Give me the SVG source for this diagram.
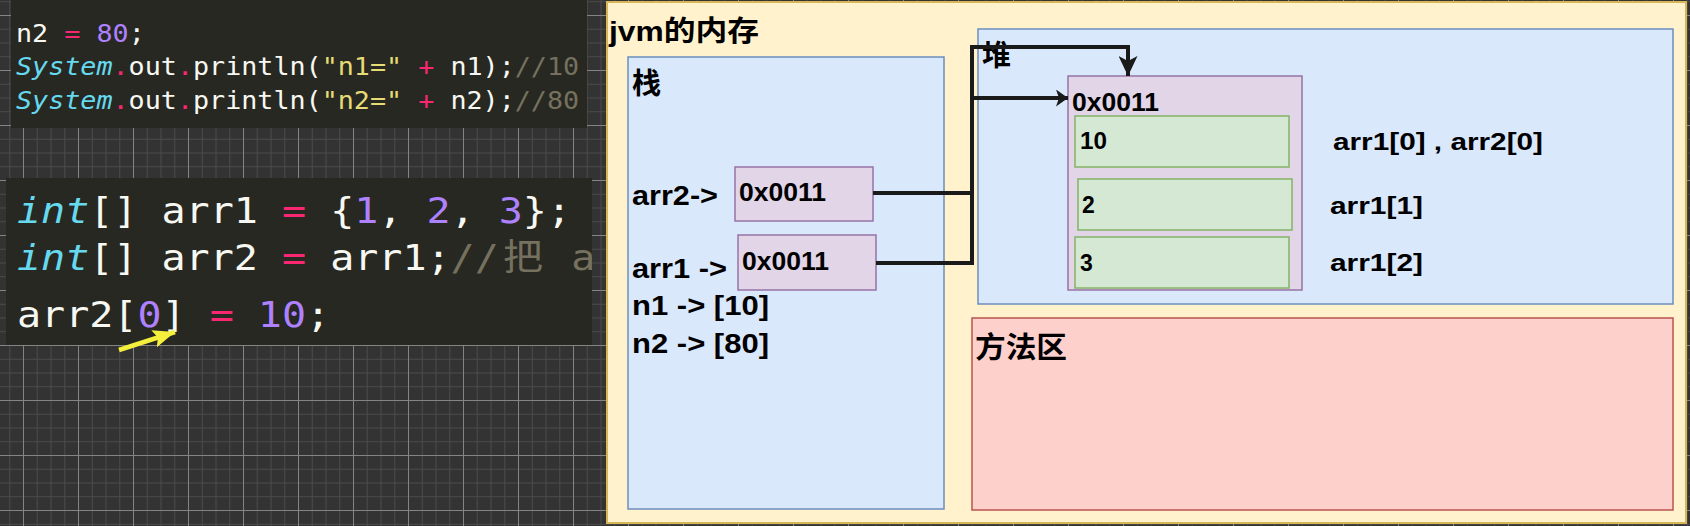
<svg xmlns="http://www.w3.org/2000/svg" width="1690" height="526" viewBox="0 0 1690 526">
<defs>
<style>
.lbl{font-family:"Liberation Sans","Noto Sans CJK SC",Arial,sans-serif;font-weight:bold;fill:#000}
.code{font-family:"DejaVu Sans Mono","Noto Sans CJK SC",monospace;white-space:pre;fill:#f8f8f2}
.kw{fill:#66d9ef;font-style:italic}
.op{fill:#f92672}
.num{fill:#ae81ff}
.str{fill:#e6db74}
.cm{fill:#75715e}
.panel{fill:#272822}
.conn{fill:none;stroke:#1a1a1a;stroke-width:4}
.ptr{fill:#e1d5e7;stroke:#9673a6;stroke-width:1.5}
.cell{fill:#d5e8d4;stroke:#82b366;stroke-width:1.5}
</style>
<pattern id="gMinor" width="13.75" height="13.75" patternUnits="userSpaceOnUse" x="23" y="15">
<path d="M0.5 0V13.75M0 0.5H13.75" stroke="#4b4b4b" stroke-width="1" fill="none"/>
</pattern>
<pattern id="gMajor" width="55" height="55" patternUnits="userSpaceOnUse" x="23" y="15">
<path d="M0.5 0V55M0 0.5H55" stroke="#848484" stroke-width="1" fill="none"/>
</pattern>
<marker id="arrDown" viewBox="0 0 20 19" refX="20" refY="9.5" markerWidth="20" markerHeight="19" markerUnits="userSpaceOnUse" orient="auto">
<path d="M0,0 L20,9.5 L0,19 L5,9.5 z" fill="#1a1a1a"/>
</marker>
<marker id="arrRight" viewBox="0 0 12 17" refX="12" refY="8.5" markerWidth="12" markerHeight="17" markerUnits="userSpaceOnUse" orient="auto">
<path d="M0,0 L12,8.5 L0,17 L3,8.5 z" fill="#1a1a1a"/>
</marker>
<marker id="arrYellow" viewBox="0 0 22 18" refX="22" refY="9" markerWidth="22" markerHeight="18" markerUnits="userSpaceOnUse" orient="auto">
<path d="M0,0 L22,9 L0,18 L4,9 z" fill="#f5f03c"/>
</marker>
<clipPath id="clipBottom"><rect x="6" y="178" width="586" height="167"/></clipPath>
</defs>

<rect x="0" y="0" width="1690" height="526" fill="#333333"/>
<rect x="0" y="0" width="1690" height="526" fill="url(#gMinor)"/>
<rect x="0" y="0" width="1690" height="526" fill="url(#gMajor)"/>

<g id="code-top">
<rect class="panel" x="11" y="0" width="576" height="128"/>
<g transform="translate(16 0) scale(1.114 1)">
<text class="code" font-size="24" x="0" y="42">n2 <tspan class="op">=</tspan> <tspan class="num">80</tspan>;</text>
<text class="code" font-size="24" x="0" y="75"><tspan class="kw">System</tspan><tspan class="op">.</tspan>out<tspan class="op">.</tspan>println(<tspan class="str">"n1="</tspan> <tspan class="op">+</tspan> n1);<tspan class="cm">//10</tspan></text>
<text class="code" font-size="24" x="0" y="109"><tspan class="kw">System</tspan><tspan class="op">.</tspan>out<tspan class="op">.</tspan>println(<tspan class="str">"n2="</tspan> <tspan class="op">+</tspan> n2);<tspan class="cm">//80</tspan></text>
</g>
</g>

<g id="code-bottom">
<rect class="panel" x="6" y="178" width="586" height="167"/>
<g clip-path="url(#clipBottom)">
<g transform="translate(17 0) scale(1.112 1)">
<text class="code" font-size="36" x="0" y="223"><tspan class="kw">int</tspan>[] arr1 <tspan class="op">=</tspan> {<tspan class="num">1</tspan>, <tspan class="num">2</tspan>, <tspan class="num">3</tspan>};</text>
<text class="code" font-size="36" x="0" y="270"><tspan class="kw">int</tspan>[] arr2 <tspan class="op">=</tspan> arr1;<tspan class="cm">//</tspan><tspan class="cm" x="437">把</tspan><tspan class="cm" x="476.7"> ar</tspan></text>
<text class="code" font-size="36" x="0" y="327">arr2[<tspan class="num">0</tspan>] <tspan class="op">=</tspan> <tspan class="num">10</tspan>;</text>
</g>
</g>
<line x1="119" y1="350" x2="175" y2="332" stroke="#f5f03c" stroke-width="4.5" marker-end="url(#arrYellow)"/>
</g>

<g id="jvm-memory">
<rect x="607" y="2" width="1079" height="521" fill="#fff2cc" stroke="#d6b656" stroke-width="2"/>
<text class="lbl" x="609" y="41" font-size="28" textLength="150" lengthAdjust="spacingAndGlyphs">jvm的内存</text>
</g>

<g id="stack">
<rect x="628" y="57" width="316" height="452" fill="#dae8fc" stroke="#6c8ebf" stroke-width="1.5"/>
<text class="lbl" x="632" y="94" font-size="29">栈</text>
<text class="lbl" x="632" y="205" font-size="28" textLength="86" lengthAdjust="spacingAndGlyphs">arr2-&gt;</text>
<text class="lbl" x="632" y="278" font-size="28" textLength="95" lengthAdjust="spacingAndGlyphs">arr1 -&gt;</text>
<text class="lbl" x="632" y="315" font-size="28" textLength="137" lengthAdjust="spacingAndGlyphs">n1 -&gt; [10]</text>
<text class="lbl" x="632" y="353" font-size="28" textLength="137" lengthAdjust="spacingAndGlyphs">n2 -&gt; [80]</text>
</g>

<g id="arr2-ref">
<rect class="ptr" x="735" y="167" width="138" height="54"/>
<text class="lbl" x="739" y="201" font-size="26" textLength="87" lengthAdjust="spacingAndGlyphs">0x0011</text>
</g>

<g id="arr1-ref">
<rect class="ptr" x="738" y="235" width="138" height="55"/>
<text class="lbl" x="742" y="270" font-size="26" textLength="87" lengthAdjust="spacingAndGlyphs">0x0011</text>
</g>

<g id="heap">
<rect x="978" y="29" width="695" height="275" fill="#dae8fc" stroke="#6c8ebf" stroke-width="1.5"/>
<text class="lbl" x="982" y="66" font-size="29">堆</text>
<text class="lbl" x="1333" y="150" font-size="24" textLength="210" lengthAdjust="spacingAndGlyphs">arr1[0] , arr2[0]</text>
<text class="lbl" x="1330" y="214" font-size="24" textLength="93" lengthAdjust="spacingAndGlyphs">arr1[1]</text>
<text class="lbl" x="1330" y="271" font-size="24" textLength="93" lengthAdjust="spacingAndGlyphs">arr1[2]</text>
</g>

<g id="array-0x0011">
<rect class="ptr" x="1068" y="76" width="234" height="214"/>
<text class="lbl" x="1072" y="111" font-size="26" textLength="87" lengthAdjust="spacingAndGlyphs">0x0011</text>
</g>

<g id="cell-0">
<rect class="cell" x="1075" y="116" width="214" height="51"/>
<text class="lbl" x="1080" y="149" font-size="23" textLength="27" lengthAdjust="spacingAndGlyphs">10</text>
</g>
<g id="cell-1">
<rect class="cell" x="1078" y="179" width="214" height="51"/>
<text class="lbl" x="1082" y="213" font-size="23">2</text>
</g>
<g id="cell-2">
<rect class="cell" x="1075" y="237" width="214" height="51"/>
<text class="lbl" x="1080" y="271" font-size="23">3</text>
</g>

<g id="method-area">
<rect x="972" y="318" width="701" height="192" fill="#fdd0cc" stroke="#b85450" stroke-width="1.5"/>
<text class="lbl" x="975" y="358" font-size="29" textLength="92" lengthAdjust="spacingAndGlyphs">方法区</text>
</g>

<g id="connectors">
<path class="conn" d="M873 193H972V47H1128V76" marker-end="url(#arrDown)"/>
<path class="conn" d="M876 263H972V98H1068" marker-end="url(#arrRight)"/>
</g>
</svg>
